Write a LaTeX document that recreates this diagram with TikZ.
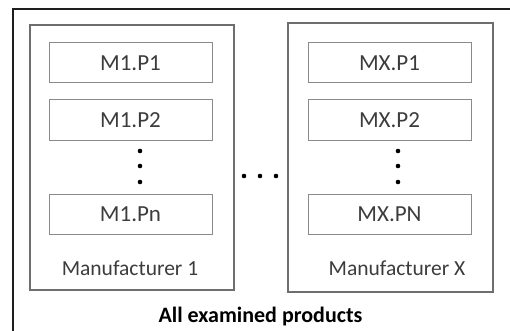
\documentclass[tikz,border=0pt]{standalone}
\usepackage{fontspec}
\setmainfont{Carlito}
\usepackage{tikz}
\definecolor{ink}{HTML}{3C3C3C}
\definecolor{frame}{HTML}{1E1E1E}
\definecolor{mfgray}{HTML}{6E6E6E}
\definecolor{prgray}{HTML}{8A8A8A}
\tikzset{
  prodbox/.style={draw=prgray,line width=1pt,minimum width=163pt,minimum height=40pt,
    inner sep=0pt,text=ink,font=\fontsize{23}{27}\selectfont},
  mfbox/.style={draw=mfgray,line width=1.4pt,inner sep=0pt},
  mflabel/.style={text=ink,font=\fontsize{21.5}{25}\selectfont},
}
\newcommand{\proddots}[1]{%
  \foreach \yy in {151,166,182} \fill[black] (#1,\yy) circle (2.3);
}

\begin{document}
\begin{tikzpicture}[x=1pt,y=-1pt]
\useasboundingbox (0,0) rectangle (510,331);
\clip (0,0) rectangle (510,331);
\draw[frame,line width=2pt] (13,9) rectangle (530,350);
% manufacturer 1
\node[mfbox,minimum width=204pt,minimum height=265pt] (mf1) at (132,157.5) {};
\node[prodbox] (m1p1) at (130.5,63) {M1.P1};
\node[prodbox] (m1p2) at (130.5,120) {M1.P2};
\node[prodbox] (m1pn) at (130.5,214.5) {M1.Pn};
\proddots{140}
\node[mflabel] (mf1lab) at (130,268) {Manufacturer 1};
% manufacturer X
\node[mfbox,minimum width=205pt,minimum height=269pt] (mfx) at (390.5,157.5) {};
\node[prodbox] (mxp1) at (389.5,63) {MX.P1};
\node[prodbox] (mxp2) at (389.5,120) {MX.P2};
\node[prodbox] (mxpn) at (389.5,214.5) {MX.PN};
\proddots{398}
\node[mflabel] (mfxlab) at (397,268) {Manufacturer X};
% between
\foreach \xx in {244,260,276} \fill[black] (\xx,176) circle (2.3);
\node[text=black,font=\bfseries\fontsize{22}{26}\selectfont] (all) at (260.5,317) {All examined products};
\end{tikzpicture}
\end{document}
